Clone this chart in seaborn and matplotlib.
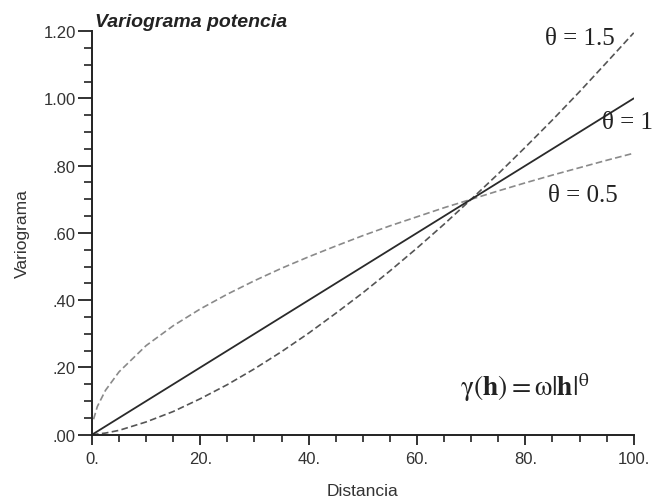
import matplotlib
matplotlib.use("Agg")
import matplotlib.pyplot as plt
import seaborn as sns
import pandas as pd
from matplotlib.ticker import MultipleLocator, FixedLocator

# ---- data ----
distancia = [0, 2.5, 5, 10, 15, 20, 25, 30, 35, 40, 45, 50, 55, 60, 65, 70, 75, 80, 85, 90, 95, 100]
theta_1 = [0.0, 0.025, 0.05, 0.10, 0.15, 0.20, 0.25, 0.30, 0.35, 0.40, 0.45, 0.50, 0.55, 0.60,
           0.65, 0.70, 0.75, 0.80, 0.85, 0.90, 0.95, 1.00]
theta_15 = [0.0, 0.005, 0.013, 0.038, 0.069, 0.107, 0.149, 0.196, 0.247, 0.302, 0.361, 0.422,
            0.487, 0.555, 0.626, 0.700, 0.776, 0.855, 0.936, 1.020, 1.107, 1.195]
distancia_05 = [0.3, 1, 2.5, 5, 10, 15, 20, 25, 30, 35, 40, 45, 50, 55, 60, 65, 70, 75, 80, 85, 90, 95, 100]
theta_05 = [0.046, 0.084, 0.132, 0.187, 0.265, 0.324, 0.374, 0.418, 0.458, 0.495, 0.529, 0.561,
            0.592, 0.621, 0.648, 0.675, 0.700, 0.725, 0.749, 0.772, 0.794, 0.816, 0.837]
x_ticks = [0, 20, 40, 60, 80, 100]
x_ticklabels = ["0.", "20.", "40.", "60.", "80.", "100."]
y_ticks = [0.0, 0.2, 0.4, 0.6, 0.8, 1.0, 1.2]
y_ticklabels = [".00", ".20", ".40", ".60", ".80", "1.00", "1.20"]

sns.set_style("ticks")
plt.rcParams["font.family"] = ["Liberation Sans", "DejaVu Sans"]
plt.rcParams["mathtext.fontset"] = "stix"

fig = plt.figure(figsize=(6.52, 5.02), dpi=100)
ax = fig.add_axes([0.141, 0.132, 0.831, 0.804])

df1 = pd.DataFrame({"h": distancia, "g": theta_1})
df15 = pd.DataFrame({"h": distancia, "g": theta_15})
df05 = pd.DataFrame({"h": distancia_05, "g": theta_05})

sns.lineplot(data=df05, x="h", y="g", ax=ax, color="#8a8a8a", lw=1.2, linestyle=(0, (4, 2)))
sns.lineplot(data=df15, x="h", y="g", ax=ax, color="#555555", lw=1.2, linestyle=(0, (4, 2)))
sns.lineplot(data=df1, x="h", y="g", ax=ax, color="#2a2a2a", lw=1.3)

ax.set_xlim(0, 100)
ax.set_ylim(0, 1.2)
ax.xaxis.set_major_locator(FixedLocator(x_ticks))
ax.set_xticklabels(x_ticklabels)
ax.yaxis.set_major_locator(FixedLocator(y_ticks))
ax.set_yticklabels(y_ticklabels)
ax.xaxis.set_minor_locator(MultipleLocator(5))
ax.yaxis.set_minor_locator(MultipleLocator(0.05))

for s in ["top", "right"]:
    ax.spines[s].set_visible(False)
for s in ["left", "bottom"]:
    ax.spines[s].set_linewidth(1.4)
    ax.spines[s].set_color("#222222")

ax.tick_params(axis="both", which="major", direction="out", width=1.3, color="#222222",
               labelsize=12, labelcolor="#333333")
ax.tick_params(axis="y", which="major", length=10, pad=1.5)
ax.tick_params(axis="y", which="minor", length=6, width=1.2, color="#222222")
ax.tick_params(axis="x", which="major", length=7, pad=5)
ax.tick_params(axis="x", which="minor", length=5, width=1.2, color="#222222")

ax.set_xlabel("Distancia", fontsize=12.5, color="#333333", labelpad=12)
ax.set_ylabel("Variograma", fontsize=12.5, color="#333333", labelpad=10)

fig.text(0.146, 0.956, "Variograma potencia", fontsize=14, fontweight="bold",
         fontstyle="italic", color="#222222", va="center", ha="left")

serif = ["Liberation Serif", "DejaVu Serif"]
ax.text(83.6, 1.180, "θ = 1.5", fontsize=18, family=serif, color="#222222", va="center", ha="left")
ax.text(94.1, 0.930, "θ = 1", fontsize=18, family=serif, color="#222222", va="center", ha="left",
        clip_on=False)
ax.text(84.1, 0.712, "θ = 0.5", fontsize=18, family=serif, color="#222222", va="center", ha="left")
ax.text(67.9, 0.142, r"$\mathrm{\gamma}(\mathbf{h})=\mathrm{\omega}|\mathbf{h}|^{\mathrm{\theta}}$",
        fontsize=20, color="#222222", va="center", ha="left")

fig.savefig("out.png", dpi=100)
